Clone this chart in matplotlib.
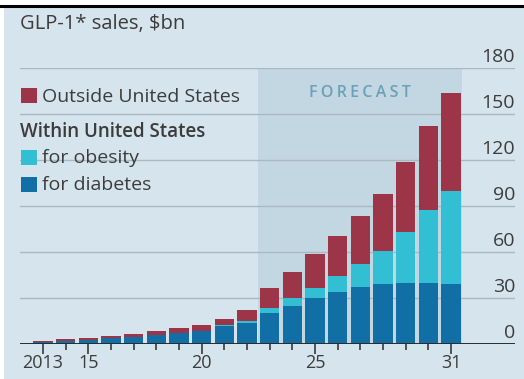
import matplotlib
matplotlib.use("Agg")
import matplotlib.pyplot as plt
from matplotlib.patches import Rectangle
from matplotlib.lines import Line2D
from matplotlib.transforms import blended_transform_factory, offset_copy

# GLP-1 sales, $bn, by year
years = list(range(2013, 2032))
us_diabetes = [1.3, 2.0, 2.6, 3.6, 4.8, 5.9, 7.2, 8.3, 11.5, 14.0,
               20.0, 25.0, 30.2, 34.1, 37.0, 38.9, 40.0, 39.6, 38.9]
us_obesity = [0.0, 0.0, 0.0, 0.0, 0.0, 0.0, 0.0, 0.3, 0.8, 1.2,
              3.7, 5.2, 6.5, 10.2, 15.0, 21.7, 32.8, 47.8, 61.1]
outside_us = [0.9, 1.0, 1.1, 1.4, 1.9, 2.6, 3.2, 4.0, 4.1, 6.8,
              12.6, 16.8, 21.8, 26.3, 31.4, 37.2, 45.7, 54.9, 63.4]
y_ticks = [0, 30, 60, 90, 120, 150, 180]
x_tick_years = [2013, 2015, 2020, 2025, 2031]
x_tick_labels = ["2013", "15", "20", "25", "31"]
forecast_start, forecast_end = 2022.5, 2031.5

BG = "#d6e4ed"
SHADE = "#c3d7e3"
GRID = "#a9b8c1"
TEXT = "#3c3c3c"
C_OUT = "#9c3548"
C_OBE = "#33bfd3"
C_DIA = "#126fa6"
FONT = "Open Sans"

plt.rcParams["font.family"] = [FONT, "DejaVu Sans"]

W, H = 524, 379
fig = plt.figure(figsize=(W / 100, H / 100), dpi=100, facecolor=BG)

def fy(px):
    """Figure fraction for a pixel row measured from the top."""
    return 1 - px / H

# white strips along the top and left edge, with a rule across the top
fig.add_artist(Rectangle((0, fy(5)), 1, 5 / H, transform=fig.transFigure,
                         facecolor="white", edgecolor="none"))
fig.add_artist(Rectangle((0, 0), 4 / W, 1, transform=fig.transFigure,
                         facecolor="white", edgecolor="none"))
fig.add_artist(Line2D([0, 1], [fy(6), fy(6)], transform=fig.transFigure,
                      color="black", linewidth=2.2))

left, right = 20 / W, 515 / W
bottom, top = fy(344), fy(68)
ax = fig.add_axes([left, bottom, right - left, top - bottom])
ax.set_facecolor("none")
px_per_year = 22.7
ax.set_xlim(2013 - 23 / px_per_year, 2031 + 64 / px_per_year)
ax.set_ylim(0, 180)
for s in ax.spines.values():
    s.set_visible(False)

ax.axvspan(forecast_start, forecast_end, ymin=0, ymax=1, facecolor=SHADE,
           edgecolor="none", zorder=0)

for v in y_ticks[1:]:
    ax.axhline(v, color=GRID, linewidth=1.0, zorder=1)

bw = 0.86
ax.bar(years, us_diabetes, width=bw, color=C_DIA, zorder=2)
ax.bar(years, us_obesity, width=bw, bottom=us_diabetes, color=C_OBE, zorder=2)
base3 = [a + b for a, b in zip(us_diabetes, us_obesity)]
ax.bar(years, outside_us, width=bw, bottom=base3, color=C_OUT, zorder=2)

ax.axhline(0, color="#2b2b2b", linewidth=1.4, zorder=3)

# year ticks below the baseline: long ticks carry labels
ax.set_yticks([])
ax.set_xticks(x_tick_years)
ax.set_xticklabels(x_tick_labels, fontsize=13, color=TEXT)
ax.tick_params(axis="x", which="major", length=7, width=1.1, color="#2b2b2b",
               direction="out", pad=0)
ax.set_xticks([y for y in years if y not in x_tick_years], minor=True)
ax.tick_params(axis="x", which="minor", length=4, width=1.1, color="#2b2b2b",
               direction="out")

# value labels above gridlines on the right
tr = offset_copy(blended_transform_factory(ax.transAxes, ax.transData),
                 fig=fig, x=0, y=1.5, units="points")
for v in y_ticks:
    ax.text(1.0, v, str(v), transform=tr, ha="right", va="bottom",
            fontsize=14, color=TEXT)

ax.text(2027.0, 164, "\u2009".join("FORECAST"), ha="center", va="center",
        fontsize=11.5, fontweight="semibold", color="#6aa0b8", zorder=3)

# title
fig.text(20 / W, fy(29), "GLP-1* sales, $bn", ha="left", va="baseline",
         fontsize=14.5, color=TEXT)

# legend
def swatch(y_top, color):
    fig.add_artist(Rectangle((21 / W, fy(y_top + 15)), 16 / W, 15 / H,
                             transform=fig.transFigure, facecolor=color,
                             edgecolor="none"))

swatch(88, C_OUT)
fig.text(42 / W, fy(102), "Outside United States", ha="left", va="baseline",
         fontsize=14, color=TEXT)
fig.text(20 / W, fy(137), "Within United States", ha="left", va="baseline",
         fontsize=13.5, color=TEXT, fontweight="semibold")
swatch(150, C_OBE)
fig.text(42 / W, fy(163), "for obesity", ha="left", va="baseline",
         fontsize=14, color=TEXT)
swatch(177, C_DIA)
fig.text(42 / W, fy(190), "for diabetes", ha="left", va="baseline",
         fontsize=14, color=TEXT)

fig.savefig("out.png", dpi=100, facecolor=BG)
